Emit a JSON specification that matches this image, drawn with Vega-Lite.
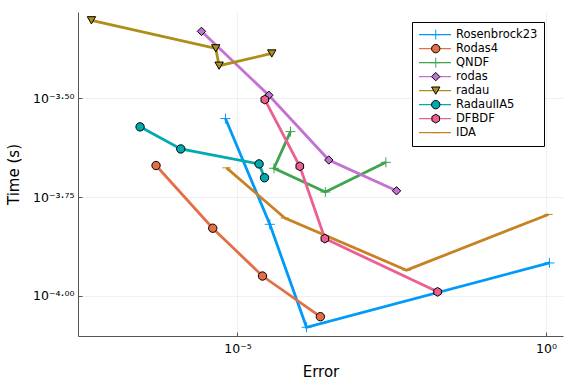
{
  "$schema": "https://vega.github.io/schema/vega-lite/v6.json",
  "width": 485,
  "height": 324,
  "autosize": {"type": "none"},
  "padding": {"left": 78, "top": 12, "right": 13, "bottom": 48},
  "config": {
    "font": "DejaVu Sans",
    "view": {"stroke": null},
    "axis": {
      "domainColor": "#555555",
      "domainWidth": 1,
      "tickColor": "#555555",
      "tickSize": -4,
      "labelColor": "#000000",
      "labelFontSize": 12.5,
      "titleFontSize": 15,
      "titleFontWeight": "normal",
      "titleColor": "#000000",
      "gridColor": "#000000",
      "gridOpacity": 0.1,
      "gridWidth": 0.6
    }
  },
  "data": {
    "values": [
      {"solver": "Rosenbrock23", "k": 1, "error": 6.38e-6, "time": 2.812e-4},
      {"solver": "Rosenbrock23", "k": 2, "error": 3.342e-5, "time": 1.517e-4},
      {"solver": "Rosenbrock23", "k": 3, "error": 1.315e-4, "time": 8.32e-5},
      {"solver": "Rosenbrock23", "k": 4, "error": 1.138, "time": 1.211e-4},
      {"solver": "Rodas4", "k": 1, "error": 4.786e-7, "time": 2.138e-4},
      {"solver": "Rodas4", "k": 2, "error": 3.972e-6, "time": 1.483e-4},
      {"solver": "Rodas4", "k": 3, "error": 2.541e-5, "time": 1.122e-4},
      {"solver": "Rodas4", "k": 4, "error": 2.203e-4, "time": 8.85e-5},
      {"solver": "QNDF", "k": 1, "error": 7.228e-5, "time": 2.606e-4},
      {"solver": "QNDF", "k": 2, "error": 3.908e-5, "time": 2.104e-4},
      {"solver": "QNDF", "k": 3, "error": 2.655e-4, "time": 1.832e-4},
      {"solver": "QNDF", "k": 4, "error": 2.541e-3, "time": 2.178e-4},
      {"solver": "rodas", "k": 1, "error": 2.606e-6, "time": 4.677e-4},
      {"solver": "rodas", "k": 2, "error": 3.221e-5, "time": 3.221e-4},
      {"solver": "rodas", "k": 3, "error": 3.020e-4, "time": 2.208e-4},
      {"solver": "rodas", "k": 4, "error": 3.784e-3, "time": 1.845e-4},
      {"solver": "radau", "k": 1, "error": 4.295e-8, "time": 4.989e-4},
      {"solver": "radau", "k": 2, "error": 4.446e-6, "time": 4.236e-4},
      {"solver": "radau", "k": 3, "error": 5.035e-6, "time": 3.828e-4},
      {"solver": "radau", "k": 4, "error": 3.597e-5, "time": 4.111e-4},
      {"solver": "RadauIIA5", "k": 1, "error": 2.636e-7, "time": 2.679e-4},
      {"solver": "RadauIIA5", "k": 2, "error": 1.205e-6, "time": 2.355e-4},
      {"solver": "RadauIIA5", "k": 3, "error": 2.239e-5, "time": 2.158e-4},
      {"solver": "RadauIIA5", "k": 4, "error": 2.742e-5, "time": 1.991e-4},
      {"solver": "DFBDF", "k": 1, "error": 2.773e-5, "time": 3.141e-4},
      {"solver": "DFBDF", "k": 2, "error": 1.023e-4, "time": 2.128e-4},
      {"solver": "DFBDF", "k": 3, "error": 2.606e-4, "time": 1.396e-4},
      {"solver": "DFBDF", "k": 4, "error": 1.750e-2, "time": 1.023e-4},
      {"solver": "IDA", "k": 1, "error": 6.637e-6, "time": 2.109e-4},
      {"solver": "IDA", "k": 2, "error": 5.848e-5, "time": 1.574e-4},
      {"solver": "IDA", "k": 3, "error": 5.495e-3, "time": 1.161e-4},
      {"solver": "IDA", "k": 4, "error": 1.096, "time": 1.607e-4}
    ]
  },
  "encoding": {
    "x": {
      "field": "error",
      "type": "quantitative",
      "title": "Error",
      "scale": {"type": "log", "domain": [2.6e-8, 1.888], "nice": false},
      "axis": {
        "values": [0.00001, 1],
        "labelExpr": "datum.value < 0.001 ? '10⁻⁵' : '10⁰'",
        "labelPadding": 10,
        "titlePadding": 10
      }
    },
    "y": {
      "field": "time",
      "type": "quantitative",
      "title": "Time (s)",
      "scale": {"type": "log", "domain": [7.907e-5, 5.236e-4], "nice": false},
      "axis": {
        "values": [0.0001, 0.00017782794, 0.00031622777],
        "labelExpr": "datum.value < 0.00013 ? '10⁻⁴·⁰⁰' : datum.value < 0.00025 ? '10⁻³·⁷⁵' : '10⁻³·⁵⁰'",
        "labelPadding": 8,
        "titlePadding": 11
      }
    }
  },
  "layer": [
    {
      "mark": {"type": "line", "strokeWidth": 2.8},
      "encoding": {
        "order": {"field": "k", "type": "quantitative"},
        "color": {
          "field": "solver",
          "type": "nominal",
          "sort": ["Rosenbrock23", "Rodas4", "QNDF", "rodas", "radau", "RadauIIA5", "DFBDF", "IDA"],
          "scale": {
            "range": ["#009AFA", "#E36F47", "#3EA44E", "#C371D2", "#AC8E18", "#00AAAE", "#ED5E93", "#C68225"]
          },
          "legend": {
            "orient": "none",
            "legendX": 334,
            "legendY": 10,
            "title": null,
            "symbolType": "stroke",
            "symbolSize": 1024,
            "symbolStrokeWidth": 1.2,
            "clipHeight": 13.3,
            "labelFontSize": 11.5,
            "labelColor": "#000000",
            "labelOffset": 4,
            "padding": 6,
            "rowPadding": -0.8,
            "strokeColor": "#000000",
            "fillColor": "#ffffff",
            "zindex": 1
          }
        }
      }
    },
    {
      "mark": {"type": "point", "filled": true, "opacity": 1, "size": 70, "strokeWidth": 1},
      "encoding": {
        "fill": {
          "field": "solver",
          "type": "nominal",
          "scale": {
            "domain": ["Rosenbrock23", "Rodas4", "QNDF", "rodas", "radau", "RadauIIA5", "DFBDF", "IDA"],
            "range": ["#009AFA", "#E36F47", "#3EA44E", "#C371D2", "#AC8E18", "#00AAAE", "#ED5E93", "#C68225"]
          },
          "legend": {
            "orient": "none", "legendX": 334, "legendY": 10, "title": null,
            "symbolSize": 70, "symbolStrokeWidth": 1, "symbolOffset": 12,
            "clipHeight": 13.3, "labelExpr": "''",
            "labelFontSize": 11.5, "labelOffset": 4,
            "padding": 6, "rowPadding": -0.8, "zindex": 2
          }
        },
        "stroke": {
          "field": "solver",
          "type": "nominal",
          "scale": {
            "domain": ["Rosenbrock23", "Rodas4", "QNDF", "rodas", "radau", "RadauIIA5", "DFBDF", "IDA"],
            "range": ["#009AFA", "#000000", "#3EA44E", "#000000", "#000000", "#000000", "#000000", "#C68225"]
          },
          "legend": {
            "orient": "none", "legendX": 334, "legendY": 10, "title": null,
            "symbolSize": 70, "symbolStrokeWidth": 1, "symbolOffset": 12,
            "clipHeight": 13.3, "labelExpr": "''",
            "labelFontSize": 11.5, "labelOffset": 4,
            "padding": 6, "rowPadding": -0.8, "zindex": 2
          }
        },
        "shape": {
          "field": "solver",
          "type": "nominal",
          "scale": {
            "domain": ["Rosenbrock23", "Rodas4", "QNDF", "rodas", "radau", "RadauIIA5", "DFBDF", "IDA"],
            "range": ["M-1.2,0H1.2M0,-1.2V1.2", "circle", "M-1.2,0H1.2M0,-1.2V1.2", "diamond", "triangle-down", "circle", "M0,-1.05L0.91,-0.52L0.91,0.52L0,1.05L-0.91,0.52L-0.91,-0.52Z", "M-1,0H1"]
          },
          "legend": {
            "orient": "none", "legendX": 334, "legendY": 10, "title": null,
            "symbolSize": 70, "symbolStrokeWidth": 1, "symbolOffset": 12,
            "clipHeight": 13.3, "labelExpr": "''",
            "labelFontSize": 11.5, "labelOffset": 4,
            "padding": 6, "rowPadding": -0.8, "zindex": 2
          }
        }
      }
    }
  ]
}
